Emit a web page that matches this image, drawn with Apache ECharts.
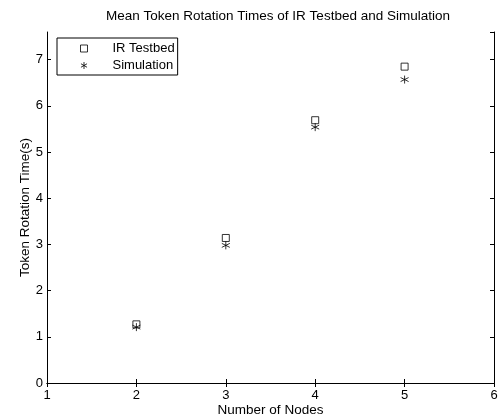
<!DOCTYPE html>
<html>
<head>
<meta charset="utf-8">
<script src="https://cdn.jsdelivr.net/npm/echarts@6/dist/echarts.min.js"></script>
<style>
  html, body { margin: 0; padding: 0; background: #fff; }
  #chart { width: 501px; height: 419px; }
</style>
</head>
<body>
<div id="chart"></div>
<script>
// values
var nodes = [2, 3, 4, 5];
var testbed = [1.27, 3.14, 5.69, 6.85];
var simulation = [1.21, 2.98, 5.54, 6.57];

var font = 'Liberation Sans, Arial, Helvetica, sans-serif';
var starPath = 'path://M0,-1L0,1M-0.87,-0.5L0.87,0.5M-0.87,0.5L0.87,-0.5';

function pairs(ys) {
  var out = [];
  for (var i = 0; i < nodes.length; i++) {
    out.push([nodes[i], ys[i]]);
  }
  return out;
}

var axisLine = { lineStyle: { color: '#000', width: 1 } };
var tickIn = { inside: true, length: 4, lineStyle: { color: '#000' } };

var option = {
  animation: false,
  textStyle: { fontFamily: font, color: '#000' },
  title: {
    text: 'Mean Token Rotation Times of IR Testbed and Simulation',
    left: 273,
    textAlign: 'center',
    top: 4,
    textStyle: { fontSize: 13.5, fontWeight: 'normal', color: '#000', fontFamily: font }
  },
  grid: { left: 47, right: 7, top: 32, bottom: 36, outerBoundsMode: 'none' },
  legend: {
    left: 57,
    top: 38,
    orient: 'vertical',
    backgroundColor: '#fff',
    borderColor: '#000',
    borderWidth: 1,
    borderRadius: 0,
    padding: [3, 3, 2, 23],
    itemWidth: 7,
    itemHeight: 7,
    itemGap: 2,
    itemStyle: { borderWidth: 1 },
    textStyle: { fontSize: 13, color: '#000', fontFamily: font, lineHeight: 15, padding: [0, 0, 0, 20] },
    data: ['IR Testbed', { name: 'Simulation', itemStyle: { borderWidth: 1 } }]
  },
  xAxis: [{
    type: 'value',
    min: 1, max: 6, interval: 1,
    name: 'Number of Nodes',
    nameLocation: 'middle',
    nameGap: 20,
    nameMoveOverlap: false,
    nameTextStyle: { fontSize: 13.5, color: '#000' },
    axisLine: axisLine,
    axisTick: tickIn,
    axisLabel: { fontSize: 13, color: '#000', margin: 6 },
    splitLine: { show: false }
  }, {
    type: 'value',
    position: 'top',
    min: 1, max: 6, interval: 1,
    axisLine: axisLine,
    axisTick: tickIn,
    axisLabel: { show: false },
    splitLine: { show: false }
  }],
  yAxis: [{
    type: 'value',
    min: 0, max: 7.6, interval: 1,
    name: 'Token Rotation Time(s)',
    nameLocation: 'middle',
    nameGap: 15,
    nameMoveOverlap: false,
    nameTextStyle: { fontSize: 13.5, color: '#000' },
    axisLine: axisLine,
    axisTick: tickIn,
    axisLabel: { fontSize: 13, color: '#000', margin: 4, showMaxLabel: false },
    splitLine: { show: false }
  }, {
    type: 'value',
    position: 'right',
    min: 0, max: 7.6, interval: 1,
    axisLine: axisLine,
    axisTick: tickIn,
    axisLabel: { show: false },
    splitLine: { show: false }
  }],
  series: [{
    name: 'IR Testbed',
    type: 'scatter',
    symbol: 'rect',
    symbolSize: 7,
    itemStyle: { color: 'rgba(0,0,0,0)', borderColor: '#000', borderWidth: 1 },
    data: pairs(testbed)
  }, {
    name: 'Simulation',
    type: 'scatter',
    symbol: starPath,
    symbolSize: 8,
    itemStyle: { color: 'rgba(0,0,0,0)', borderColor: '#000', borderWidth: 1 },
    data: pairs(simulation)
  }]
};

var chart = echarts.init(document.getElementById('chart'));
chart.setOption(option);
</script>
</body>
</html>
